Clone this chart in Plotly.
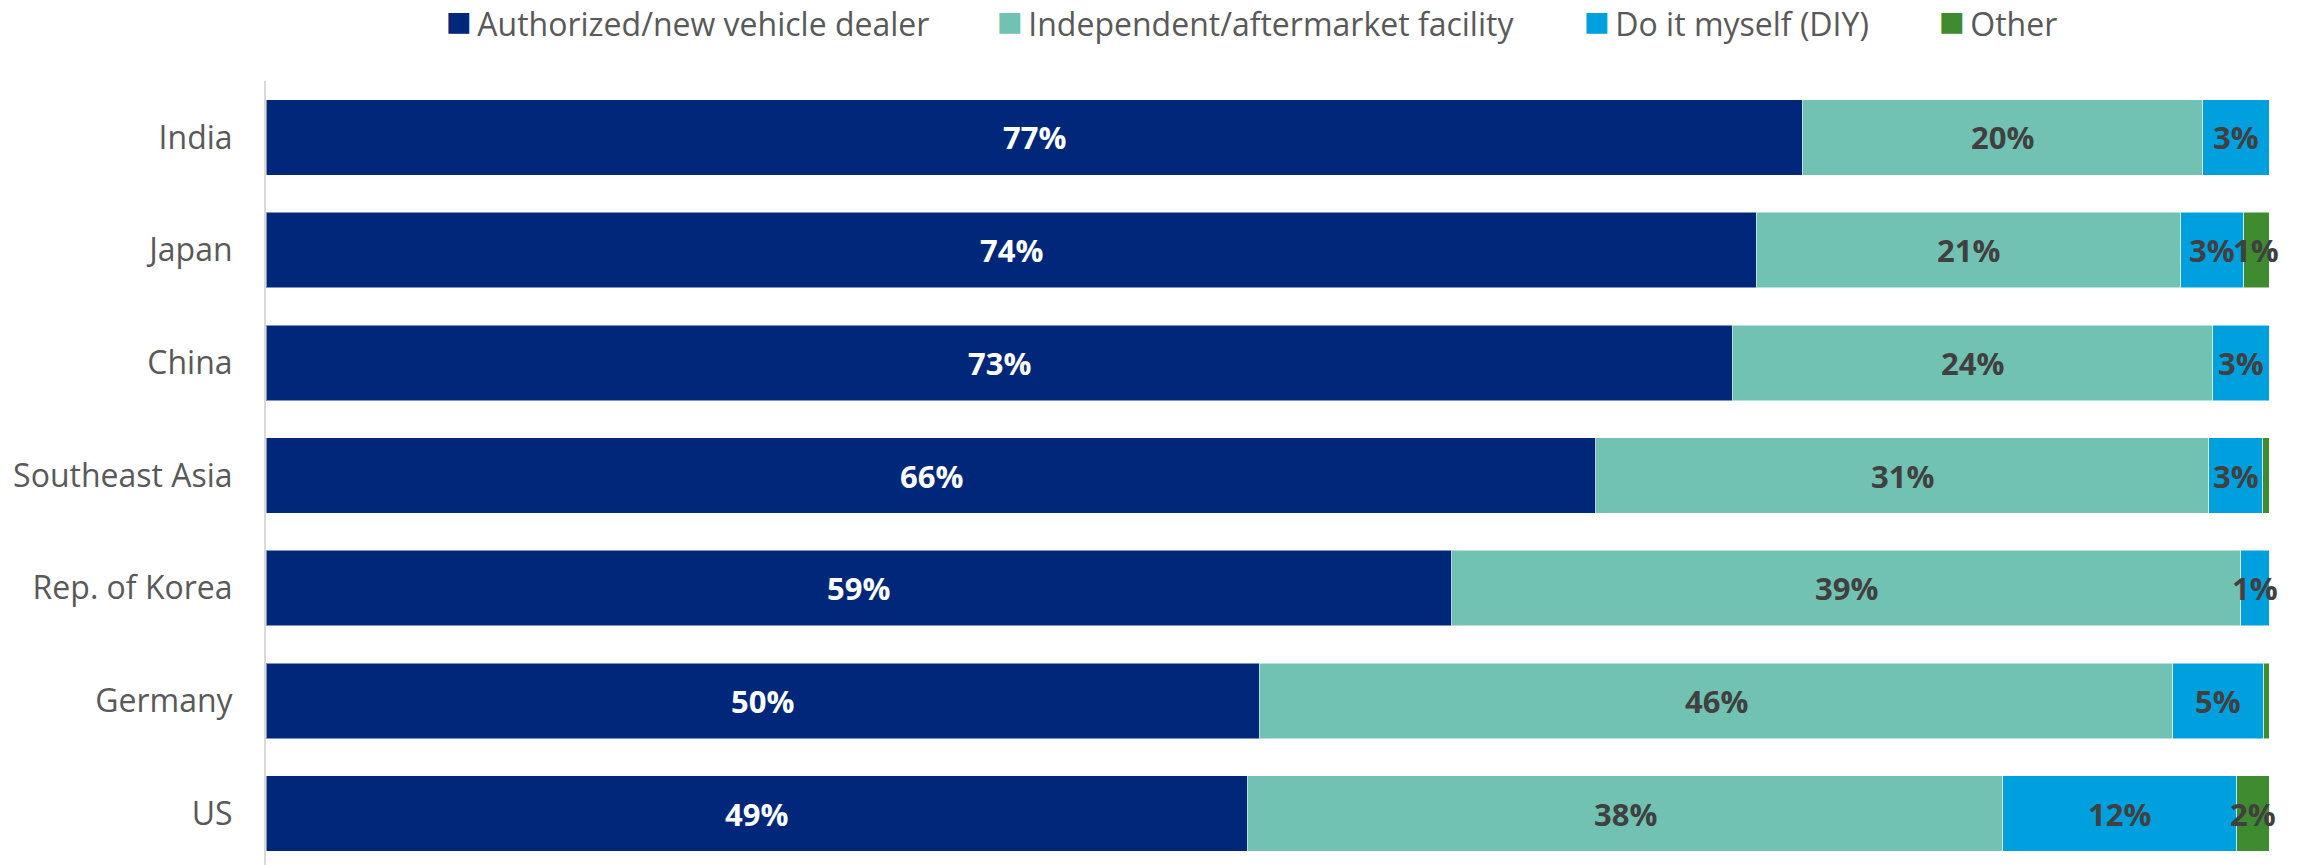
"""
Stacked horizontal bars: where vehicle owners get their service done, by market.
"""

import plotly.graph_objects as go

# Markets, top to bottom
markets = ['India', 'Japan', 'China', 'Southeast Asia', 'Rep. of Korea', 'Germany', 'US']

# Shares (%)
authorized = [76.7, 74.4, 73.2, 66.4, 59.2, 49.6, 49.0]
independent = [20.0, 21.2, 24.0, 30.6, 39.4, 45.6, 37.7]
diy = [3.3, 3.15, 2.8, 2.7, 1.4, 4.55, 11.7]
other = [0.0, 1.25, 0.0, 0.3, 0.0, 0.25, 1.6]

series_names = ['Authorized/new vehicle dealer', 'Independent/aftermarket facility',
                'Do it myself (DIY)', 'Other']
series_colors = ['#00277A', '#71C2B3', '#00A0DF', '#3F8B2F']
label_colors = ['white', '#404040', '#404040', '#404040']
legend_x = [0.089, 0.364, 0.657, 0.834]  # left edge of each legend entry (paper)

FONT = 'Open Sans'

if __name__ == '__main__':
    fig = go.Figure()
    offsets = [0.0] * len(markets)
    for name, vals, color, lab_col in zip(series_names,
                                          [authorized, independent, diy, other],
                                          series_colors, label_colors):
        fig.add_trace(go.Bar(
            y=markets,
            x=vals,
            name=name,
            orientation='h',
            marker_color=color,
            marker_line=dict(color='rgba(255,255,255,0.5)', width=1),
            showlegend=False,
            hovertemplate='%{y}: %{x}%<extra>' + name + '</extra>',
        ))
        # segment labels, centred on each segment (plotly drops some tiny ones)
        for i, (m, v) in enumerate(zip(markets, vals)):
            if v >= 1:
                fig.add_annotation(
                    x=offsets[i] + v / 2, y=m, xref='x', yref='y',
                    text=f'<b>{v:.0f}%</b>', showarrow=False,
                    font=dict(family=FONT, size=31, color=lab_col),
                    xanchor='center', yanchor='middle',
                )
            offsets[i] += v

    # legend drawn by hand: coloured square + name for each series
    for name, color, lx in zip(series_names, series_colors, legend_x):
        fig.add_annotation(
            x=lx, y=1.078, xref='paper', yref='paper',
            text=f'<span style="color:{color};font-size:43px">■</span>\u2009{name}',
            showarrow=False,
            font=dict(family=FONT, size=32, color='#595959'),
            xanchor='left', yanchor='middle',
        )

    # the page adds an 8px body margin, so margins are shifted to compensate
    fig.update_layout(
        barmode='stack',
        bargap=0.33,
        width=2317,
        height=865,
        margin=dict(l=258, r=56, t=73, b=3),
        paper_bgcolor='white',
        plot_bgcolor='white',
        font=dict(family=FONT, color='#595959', size=32),
        showlegend=False,
    )
    fig.update_xaxes(range=[0, 100], visible=False, fixedrange=True)
    fig.update_yaxes(
        categoryorder='array',
        categoryarray=markets,
        range=[6.5, -0.5],
        showgrid=False,
        showline=True,
        linecolor='#d9d9d9',
        linewidth=2,
        ticks='',
        ticklabelstandoff=25,
        tickfont=dict(family=FONT, size=32, color='#595959'),
        fixedrange=True,
    )
    fig.write_html('out.html', config={'displayModeBar': False})
